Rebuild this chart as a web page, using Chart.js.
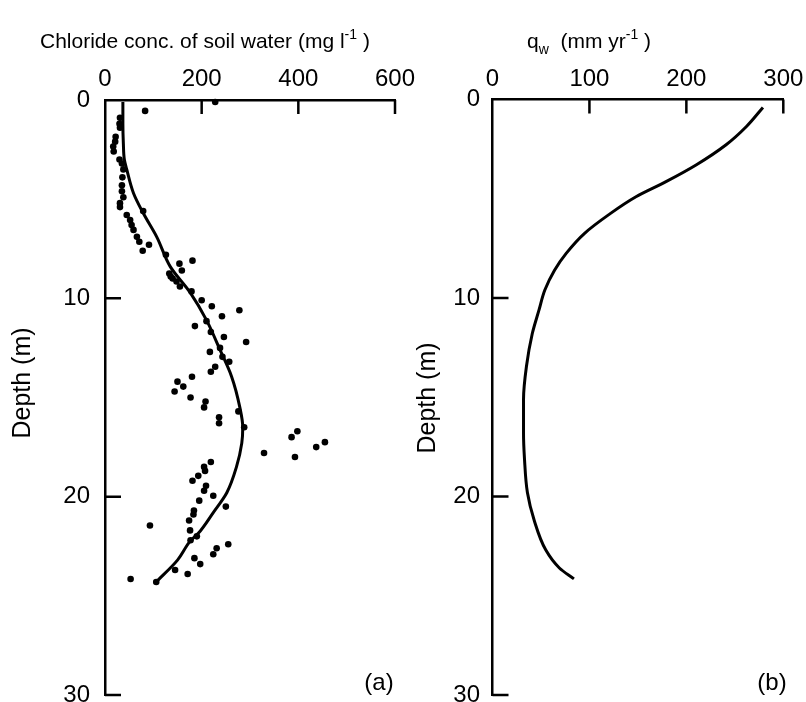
<!DOCTYPE html>
<html>
<head>
<meta charset="utf-8">
<script src="https://cdn.jsdelivr.net/npm/chart.js@4.4.1/dist/chart.umd.min.js"></script>
<style>
  html, body { margin: 0; padding: 0; background: #fff; }
  #wrap { position: relative; width: 806px; height: 702px; overflow: hidden; }
  #wrap canvas { position: absolute; top: 0; }
  #chartA { left: 0; }
  #chartB { left: 400px; }
</style>
</head>
<body>
<div id="wrap">
  <canvas id="chartA" width="420" height="702"></canvas>
  <canvas id="chartB" width="406" height="702"></canvas>
</div>
<script>
// (a) chloride concentration of soil water vs depth
const chlorideConc = [228, 83, 31, 30, 31, 22, 21, 17, 18, 30, 35, 38, 36, 35, 35, 38, 31, 31, 79, 45,
  52, 55, 59, 66, 71, 91, 78, 126, 181, 154, 159, 133, 136, 140, 148, 155, 179, 200, 221, 278,
  242, 210, 186, 219, 246, 292, 238, 217, 243, 257, 228, 219, 180, 150, 162, 144, 177, 208, 205, 276,
  236, 236, 288, 398, 386, 455, 437, 329, 393, 219, 205, 207, 193, 181, 209, 205, 224, 195, 250, 184,
  183, 174, 93, 176, 190, 177, 255, 231, 224, 185, 197, 145, 171, 53, 106];
const chlorideDepth = [0.1, 0.55, 0.9, 1.2, 1.4, 1.85, 2.1, 2.35, 2.6, 3.0, 3.2, 3.5, 3.9, 4.3, 4.6, 4.9, 5.2, 5.4, 5.6, 5.8,
  6.05, 6.3, 6.55, 6.9, 7.15, 7.3, 7.6, 7.8, 8.1, 8.25, 8.6, 8.75, 8.9, 9.0, 9.15, 9.4, 9.65, 10.1, 10.4, 10.6,
  10.9, 11.15, 11.4, 11.7, 11.95, 12.2, 12.5, 12.7, 12.95, 13.2, 13.45, 13.7, 13.95, 14.2, 14.45, 14.7, 15.0, 15.2, 15.5, 15.7,
  16.0, 16.3, 16.5, 16.7, 17.0, 17.25, 17.5, 17.8, 18.0, 18.25, 18.5, 18.7, 18.95, 19.2, 19.45, 19.7, 19.95, 20.2, 20.5, 20.7,
  20.9, 21.2, 21.45, 21.7, 22.0, 22.2, 22.4, 22.6, 22.9, 23.1, 23.4, 23.7, 23.9, 24.15, 24.3];

// fitted curve through the chloride profile
const fitConc = [37, 37, 38, 40, 45, 59, 79, 107, 135, 176, 210, 238, 262, 279, 285, 283, 272, 252, 224, 193, 176, 150, 106];
const fitDepth = [0.1, 1.2, 2.2, 3.0, 3.5, 4.7, 5.7, 6.9, 8.4, 9.7, 11.1, 12.6, 13.95, 15.5, 16.5, 17.3, 18.5, 19.8, 20.8, 21.85, 22.25, 23.2, 24.3];

// (b) water flux q_w vs depth
const fluxQw = [279, 262, 241, 210, 179, 148, 120, 95, 76, 64, 54, 48, 41, 35, 32, 32, 33, 36, 43, 55, 69, 84];
const fluxDepth = [0.4, 1.36, 2.28, 3.3, 4.14, 4.9, 5.8, 6.74, 7.75, 8.6, 9.6, 10.6, 11.8, 13.45, 15.1, 16.8, 18.1, 19.8, 21.2, 22.7, 23.6, 24.15];

const concTicks = [0, 200, 400, 600];
const fluxTicks = [0, 100, 200, 300];
const depthTicks = [0, 10, 20, 30];

const family = '"Liberation Sans", Arial, sans-serif';

function pairs(xs, ys) {
  return xs.map((x, i) => ({ x: x, y: ys[i] }));
}

// ticks point into the plot, so draw them ourselves from the scales
const innerTicks = {
  id: 'innerTicks',
  afterDatasetsDraw(chart) {
    const { ctx, chartArea, scales } = chart;
    ctx.save();
    ctx.strokeStyle = '#000';
    ctx.lineWidth = 2.5;
    ctx.beginPath();
    scales.x.ticks.forEach(t => {
      if (t.value === 0) return;
      const px = scales.x.getPixelForValue(t.value);
      ctx.moveTo(px, chartArea.top);
      ctx.lineTo(px, chartArea.top + 14);
    });
    scales.y.ticks.forEach(t => {
      if (t.value === 0) return;
      const py = scales.y.getPixelForValue(t.value);
      ctx.moveTo(chartArea.left, py);
      ctx.lineTo(chartArea.left + 16, py);
    });
    ctx.stroke();
    ctx.restore();
  }
};

function drawRich(ctx, parts, x, y, size) {
  let cx = x;
  parts.forEach(p => {
    const s = (p.sup || p.sub) ? Math.round(size * 0.66) : size;
    ctx.font = s + 'px ' + family;
    const dy = p.sup ? -size * 0.42 : (p.sub ? size * 0.3 : 0);
    ctx.fillText(p.t, cx, y + dy);
    cx += ctx.measureText(p.t).width;
  });
}

const panelText = {
  id: 'panelText',
  afterDraw(chart, args, opts) {
    const ctx = chart.ctx;
    ctx.save();
    ctx.fillStyle = '#000';
    ctx.textAlign = 'left';
    ctx.textBaseline = 'alphabetic';
    drawRich(ctx, opts.title, opts.titleX, opts.titleY, 21);

    ctx.font = '25px ' + family;
    ctx.textAlign = 'center';
    ctx.textBaseline = 'middle';
    ctx.save();
    ctx.translate(opts.depthX, opts.depthY);
    ctx.rotate(-Math.PI / 2);
    ctx.fillText('Depth (m)', 0, 0);
    ctx.restore();

    ctx.font = '24px ' + family;
    ctx.fillText(opts.tag, opts.tagX, opts.tagY);
    ctx.restore();
  }
};

function panelOptions(xMax, xTicks, box, text) {
  return {
    responsive: false,
    animation: false,
    layout: { padding: { left: 0, top: 0, right: box.right, bottom: box.bottom } },
    plugins: {
      legend: { display: false },
      tooltip: { enabled: false },
      panelText: text
    },
    scales: {
      x: {
        type: 'linear',
        position: 'top',
        min: 0,
        max: xMax,
        afterBuildTicks: s => { s.ticks = xTicks.map(v => ({ value: v })); },
        ticks: { padding: 6, color: '#000', font: { family: family, size: 24 } },
        grid: { display: false, drawTicks: false },
        border: { display: true, color: '#000', width: 2.5 },
        afterFit: s => { s.height = box.top; s.paddingLeft = 0; s.paddingRight = 0; }
      },
      y: {
        type: 'linear',
        reverse: true,
        min: 0,
        max: 30,
        afterBuildTicks: s => { s.ticks = depthTicks.map(v => ({ value: v })); },
        ticks: { padding: box.gap, color: '#000', font: { family: family, size: 24 } },
        grid: { display: false, drawTicks: false },
        border: { display: true, color: '#000', width: 2.5 },
        afterFit: s => { s.width = box.left; s.paddingTop = 0; s.paddingBottom = 0; }
      }
    }
  };
}

new Chart(document.getElementById('chartA'), {
  type: 'scatter',
  data: {
    datasets: [{
      data: pairs(chlorideConc, chlorideDepth),
      pointRadius: 3.3,
      pointBackgroundColor: '#000',
      pointBorderWidth: 0,
      clip: false
    }, {
      data: pairs(fitConc, fitDepth),
      indexAxis: 'y',
      showLine: true,
      pointRadius: 0,
      borderColor: '#000',
      borderWidth: 3,
      cubicInterpolationMode: 'monotone',
      fill: false,
      clip: false
    }]
  },
  options: panelOptions(600, concTicks, { left: 105, top: 100, right: 25, bottom: 7, gap: 15 }, {
    title: [{ t: 'Chloride conc. of soil water (mg l' }, { t: '-1', sup: true }, { t: ' )' }],
    titleX: 40, titleY: 48,
    depthX: 23, depthY: 383,
    tag: '(a)', tagX: 379, tagY: 683
  }),
  plugins: [innerTicks, panelText]
});

new Chart(document.getElementById('chartB'), {
  type: 'scatter',
  data: {
    datasets: [{
      data: pairs(fluxQw, fluxDepth),
      indexAxis: 'y',
      showLine: true,
      pointRadius: 0,
      borderColor: '#000',
      borderWidth: 3,
      cubicInterpolationMode: 'monotone',
      fill: false,
      clip: false
    }]
  },
  options: panelOptions(300, fluxTicks, { left: 92.5, top: 99.5, right: 22.7, bottom: 7, gap: 12.5 }, {
    title: [{ t: 'q' }, { t: 'w', sub: true }, { t: '  (mm yr' }, { t: '-1', sup: true }, { t: ' )' }],
    titleX: 127, titleY: 48,
    depthX: 28, depthY: 398,
    tag: '(b)', tagX: 372, tagY: 683
  }),
  plugins: [innerTicks, panelText]
});
</script>
</body>
</html>
